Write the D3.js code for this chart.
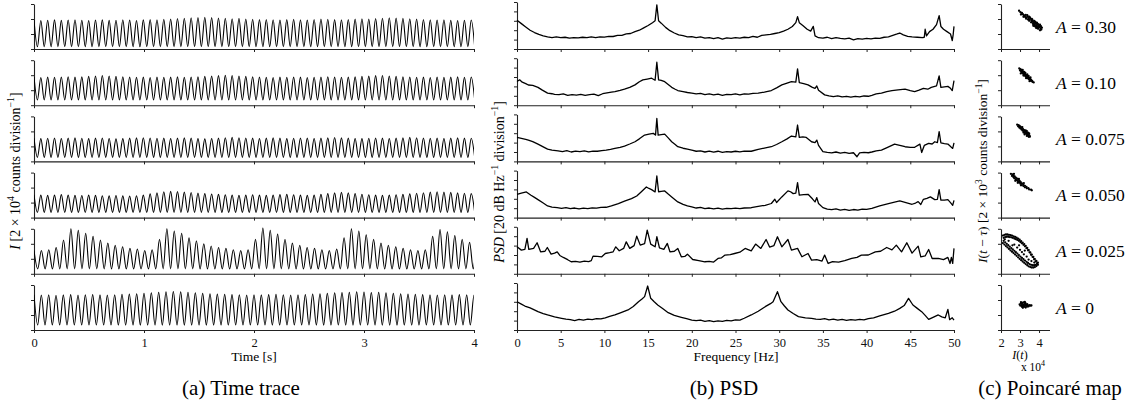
<!DOCTYPE html>
<html lang="en">
<head>
<meta charset="UTF-8">
<title>time trace / PSD / Poincare map</title>
<script src="https://cdn.jsdelivr.net/npm/d3@7"></script>
<style>
  body { margin: 0; background: #fff; }
  svg, svg text { font-family: "Liberation Serif", "Times New Roman", serif; }
  svg { display: block; }
</style>
</head>
<body>
<svg width="1135" height="408"></svg>
<script>
  // forcing amplitude of each row, top to bottom
  const amps = ['0.30', '0.10', '0.075', '0.050', '0.025', '0']

  // time trace: oscillation rate [cycles/s], trough level and the height of every peak
  const cycleRates = [16.1, 16.1, 16.1, 16.1, 14.9, 15.0]
  const troughLevels = [0.15, 0.35, 0.27, 0.35, 0.33, 0.33]

  const peaksA030 = [1.93,1.90,1.92,1.94,1.91,1.93,1.95,1.92,1.90,1.93, 1.94,1.91,1.92,1.95,1.93,1.90,1.94,1.96,1.95,1.98,
    2.00,2.03,2.05,2.08,2.10,2.12,2.10,2.07,2.05,2.02, 2.04,2.00,1.98,1.96,1.97,1.95,1.93,1.96,1.98,1.95,
    1.93,1.97,2.00,1.98,1.96,1.95,1.97,1.99,2.02,2.00, 2.03,2.05,2.08,2.06,2.04,2.02,2.00,1.97,1.95,1.93,
    1.95,1.92,1.90,1.92,1.93]
  const peaksA010 = [1.88,1.85,1.87,1.86,1.88,1.90,1.87,1.89,1.92,1.95, 1.98,1.95,1.92,1.90,1.88,1.86,1.87,1.85,1.88,1.86,
    1.87,1.89,1.86,1.88,1.90,1.92,1.95,1.97,2.00,1.98, 1.95,1.92,1.90,1.88,1.86,1.85,1.87,1.86,1.88,1.87,
    1.85,1.86,1.88,1.90,1.88,1.86,1.87,1.89,1.92,1.94, 1.97,1.98,1.95,1.92,1.90,1.88,1.86,1.87,1.85,1.88,
    1.86,1.87,1.89,1.86,1.88]
  const peaksA0075 = [1.55,1.52,1.54,1.56,1.53,1.55,1.57,1.54,1.52,1.55, 1.56,1.53,1.50,1.52,1.55,1.57,1.58,1.56,1.54,1.55,
    1.53,1.55,1.57,1.55,1.52,1.50,1.53,1.55,1.58,1.60, 1.58,1.56,1.55,1.53,1.55,1.57,1.55,1.52,1.54,1.56,
    1.55,1.53,1.55,1.57,1.59,1.57,1.55,1.53,1.52,1.54, 1.56,1.55,1.53,1.55,1.57,1.60,1.58,1.56,1.54,1.55,
    1.53,1.55,1.57,1.55,1.54]
  const peaksA0050 = [1.52,1.50,1.48,1.50,1.53,1.50,1.48,1.47,1.50,1.48, 1.46,1.45,1.47,1.45,1.44,1.46,1.50,1.58,1.65,1.72,
    1.75,1.73,1.70,1.67,1.63,1.60,1.57,1.55,1.52,1.50, 1.48,1.50,1.52,1.50,1.48,1.50,1.53,1.55,1.52,1.50,
    1.48,1.50,1.55,1.60,1.65,1.68,1.65,1.60,1.56,1.52, 1.50,1.48,1.50,1.52,1.55,1.58,1.62,1.66,1.70,1.72,
    1.70,1.68,1.65,1.62,1.60]
  const peaksA0025 = [1.55,1.55,1.60,1.75,2.25,3.00,2.90,2.70,2.50,2.25, 2.05,1.90,1.80,1.70,1.65,1.55,1.60,2.30,3.00,2.85,
    2.70,2.40,2.20,2.00,1.85,1.75,1.70,1.60,1.55,1.60, 2.30,3.05,2.90,2.65,2.30,2.05,1.90,1.75,1.70,1.60,
    1.55,1.65,2.40,3.00,2.85,2.60,2.30,2.05,1.90,1.80, 1.70,1.60,1.55,1.60,2.50,2.95,2.80,2.55,2.30,2.10,
    2.00]
  const peaksA0 = [2.35,2.33,2.35,2.32,2.34,2.36,2.33,2.35,2.37,2.34, 2.33,2.35,2.38,2.40,2.42,2.45,2.48,2.52,2.55,2.57,
    2.55,2.52,2.48,2.45,2.42,2.40,2.38,2.36,2.35,2.33, 2.35,2.34,2.36,2.38,2.35,2.33,2.35,2.37,2.40,2.42,
    2.45,2.48,2.50,2.52,2.55,2.53,2.50,2.52,2.48,2.45, 2.42,2.40,2.38,2.36,2.35,2.33,2.35,2.34,2.36,2.35,
    2.33]

  // PSD: [frequency Hz, level in divisions]
  const psdA030 = [[0,3.05],[0.5,2.7],[1,2.35],[1.5,2.0],[2,1.75],[2.5,1.55],[3,1.4],[3.5,1.3],[4,1.22],[4.5,1.28],[5,1.2],[5.5,1.25],
    [6,1.15],[6.5,1.22],[7,1.18],[7.5,1.25],[8,1.2],[8.5,1.28],[9,1.22],[9.5,1.3],[10,1.27],[10.5,1.35],[11,1.33],[11.5,1.45],
    [12,1.45],[12.5,1.6],[13,1.65],[13.5,1.85],[14,2.0],[14.5,2.25],[15,2.5],[15.5,2.8],[15.8,3.0],[16.0,4.7],[16.2,3.0],[16.5,2.75],
    [17,2.3],[17.5,1.95],[18,1.7],[18.5,1.5],[19,1.42],[19.5,1.3],[20,1.32],[20.5,1.22],[21,1.28],[21.5,1.15],[22,1.22],[22.5,1.1],
    [23,1.2],[23.5,1.05],[24,1.18],[24.5,1.12],[25,1.2],[25.5,1.15],[26,1.25],[26.5,1.2],[27,1.35],[27.5,1.25],[28,1.45],[28.5,1.5],
    [29,1.55],[29.5,1.65],[30,1.75],[30.5,1.9],[31,2.1],[31.5,2.4],[31.9,2.8],[32.1,3.45],[32.3,2.8],[32.7,2.5],[33.2,2.1],[33.6,1.9],
    [33.9,2.4],[34.1,1.4],[34.5,1.2],[35,1.15],[35.5,1.25],[36,1.1],[36.5,1.2],[37,1.12],[37.5,1.08],[38,1.15],[38.5,0.98],[39,1.1],
    [39.5,1.05],[40,1.12],[40.5,1.08],[41,1.15],[41.5,1.12],[42,1.25],[42.5,1.3],[43,1.45],[43.5,1.6],[43.8,1.7],[44.2,1.5],[44.7,1.35],
    [45.2,1.28],[45.8,1.25],[46.4,1.2],[46.6,1.25],[46.7,2.1],[46.85,1.4],[47.2,1.85],[47.6,2.1],[48.0,2.6],[48.3,3.55],[48.5,2.4],
    [48.8,2.1],[49.2,1.85],[49.6,1.6],[49.8,0.9],[49.9,1.5],[50,2.4]]
  const psdA010 = [[0,2.52],[0.3,2.7],[0.6,2.45],[1.0,2.3],[1.3,2.15],[1.8,2.1],[2.4,1.9],[2.9,1.6],[3.5,1.28],[4.0,1.22],[4.3,1.15],
    [4.8,1.12],[5.3,1.2],[5.8,1.05],[6.3,1.12],[6.8,1.08],[7.3,1.15],[7.8,1.05],[8.3,1.12],[8.8,1.18],[9.3,1.02],[9.8,1.22],[10.3,1.3],
    [10.8,1.38],[11.2,1.45],[11.8,1.58],[12.3,1.7],[12.9,1.9],[13.5,2.16],[14.0,2.5],[14.4,2.7],[14.9,2.78],[15.4,2.87],[15.8,2.65],
    [16.0,4.57],[16.2,2.7],[16.5,2.65],[16.9,2.5],[17.3,2.2],[17.7,1.9],[18.1,1.7],[18.4,1.56],[19.0,1.45],[19.5,1.35],[20,1.28],
    [20.5,1.2],[21,1.25],[21.5,1.12],[22,1.2],[22.5,1.1],[23,1.18],[23.5,1.05],[24,1.15],[24.5,1.12],[25,1.2],[25.5,1.1],[26,1.2],
    [26.5,1.18],[27,1.25],[27.6,1.28],[28.3,1.4],[29.1,1.56],[29.7,1.85],[30.3,2.16],[30.9,2.35],[31.4,2.5],[31.9,2.45],[32.1,3.87],
    [32.3,2.4],[32.8,2.3],[33.3,2.16],[33.8,1.9],[34.1,1.8],[34.3,2.05],[34.5,1.6],[35.2,1.1],[35.7,1.0],[36.2,0.92],[36.7,1.0],
    [37.2,0.88],[37.7,0.95],[38.2,0.85],[38.7,0.95],[39.2,0.88],[39.7,0.98],[40.2,0.95],[40.6,1.05],[41.1,1.2],[41.7,1.28],[42.3,1.45],
    [42.9,1.56],[43.6,1.62],[44.4,1.7],[45.0,1.55],[45.5,1.45],[46.0,1.6],[46.5,1.8],[47.0,1.7],[47.4,1.9],[48.0,2.05],[48.3,3.12],
    [48.5,1.9],[48.9,1.95],[49.3,2.0],[49.6,1.8],[49.8,1.56],[50,2.62]]
  const psdA0075 = [[0,2.55],[0.5,2.45],[1.0,2.35],[1.3,2.27],[1.8,2.1],[2.4,1.84],[3.0,1.55],[3.5,1.31],[4.0,1.2],[4.7,1.13],[5.2,1.05],
    [5.7,1.15],[6.2,1.0],[6.7,1.1],[7.2,1.05],[7.7,1.12],[8.2,1.02],[8.7,1.1],[9.2,1.08],[9.7,1.15],[10.2,1.2],[10.7,1.28],[11.2,1.38],
    [11.8,1.5],[12.3,1.63],[12.9,1.85],[13.5,2.09],[14.0,2.4],[14.6,2.8],[15.1,2.9],[15.6,2.98],[15.85,2.8],[16.0,4.57],[16.15,2.8],
    [16.5,2.85],[16.9,2.9],[17.3,2.5],[17.7,2.09],[18.1,1.8],[18.4,1.56],[19.0,1.4],[19.5,1.3],[20,1.2],[20.5,1.08],[21,1.12],[21.5,1.0],
    [22,1.1],[22.5,0.98],[23,1.08],[23.5,0.95],[24,1.05],[24.5,1.0],[25,1.08],[25.5,1.02],[26,1.1],[26.8,1.08],[27.6,1.28],[28.3,1.42],
    [29.1,1.56],[29.7,1.8],[30.3,2.09],[30.9,2.4],[31.4,2.7],[31.9,2.6],[32.1,3.87],[32.3,2.55],[32.7,2.6],[33.1,2.55],[33.7,2.09],
    [34.1,2.0],[34.3,2.27],[34.5,1.7],[35.0,1.03],[35.5,0.95],[36.0,0.9],[36.5,1.0],[37.0,0.88],[37.5,0.95],[38.0,0.85],[38.5,0.92],
    [38.9,0.5],[39.2,0.9],[39.7,0.95],[40.2,0.92],[40.6,1.0],[41.1,1.12],[41.7,1.2],[42.4,1.5],[43.2,1.84],[43.8,1.7],[44.4,1.56],
    [45.0,1.5],[45.5,1.5],[46.1,1.84],[46.3,0.95],[46.6,1.7],[47.1,1.91],[47.5,1.85],[47.8,2.09],[48.1,2.0],[48.3,3.16],[48.5,1.98],
    [48.9,1.9],[49.3,1.84],[49.7,1.5],[49.85,1.38],[50,1.98]]
  const psdA0050 = [[0,2.48],[0.5,2.6],[1.07,2.73],[1.6,2.38],[2.0,2.15],[2.4,1.91],[3.0,1.55],[3.5,1.24],[4.0,1.12],[4.6,1.06],[5.1,0.98],
    [5.6,1.05],[6.1,0.95],[6.6,1.02],[7.1,0.92],[7.6,1.0],[8.1,0.95],[8.6,1.03],[9.1,1.0],[9.6,1.08],[10.2,1.1],[10.8,1.25],[11.6,1.49],
    [12.3,1.75],[13.1,2.02],[13.7,2.3],[14.2,2.73],[14.8,3.26],[15.1,3.1],[15.4,2.98],[15.8,2.73],[16.0,4.43],[16.2,2.75],[16.5,2.8],
    [16.9,2.84],[17.3,2.5],[17.7,2.2],[18.4,1.67],[19.0,1.4],[19.5,1.25],[20,1.13],[20.5,1.02],[21,1.08],[21.5,0.95],[22,1.02],[22.5,0.92],
    [23,1.0],[23.5,0.9],[24,0.98],[24.5,0.95],[25,1.0],[25.5,0.95],[26,1.02],[26.8,1.05],[27.6,1.2],[28.4,1.31],[29.1,1.5],[29.5,1.95],
    [29.7,1.6],[30.3,2.2],[31.0,2.84],[31.3,2.75],[31.6,2.55],[31.9,2.6],[32.1,3.72],[32.3,2.4],[32.8,2.45],[33.3,2.48],[33.8,2.0],
    [34.1,1.67],[34.3,2.13],[34.5,1.5],[35.0,1.06],[35.5,0.9],[36.0,0.85],[36.5,0.92],[37.0,0.8],[37.5,0.88],[38.0,0.78],[38.5,0.86],
    [39.0,0.8],[39.5,0.9],[40.0,0.88],[40.6,0.98],[41.5,1.25],[42.5,1.49],[43.2,1.65],[43.8,1.77],[44.5,1.6],[45.2,1.42],[45.6,1.55],
    [45.9,1.7],[46.2,1.4],[46.5,1.95],[46.9,2.05],[47.3,2.2],[47.8,1.91],[48.1,1.95],[48.3,2.98],[48.5,1.85],[48.9,1.85],[49.3,1.91],
    [49.6,1.6],[49.85,1.31],[50,1.84]]
  const psdA0025 = [[0,2.87],[0.5,2.52],[0.9,2.6],[1.15,3.76],[1.35,2.59],[1.9,2.7],[2.3,3.3],[2.7,2.34],[3.2,2.4],[3.47,2.8],[3.9,2.09],
    [4.3,2.2],[4.6,2.34],[4.9,1.95],[5.3,1.74],[5.8,1.5],[6.2,1.28],[6.7,1.32],[7.2,1.25],[7.7,1.35],[8.2,1.3],[8.5,1.4],[8.7,1.88],
    [9.2,1.85],[9.7,1.81],[10.1,2.16],[10.6,2.25],[11.0,2.34],[11.3,2.87],[11.7,2.45],[12.2,2.7],[12.5,3.4],[12.9,2.7],[13.4,3.0],
    [13.7,4.0],[14.1,3.05],[14.6,3.2],[14.9,4.65],[15.3,3.16],[15.8,2.87],[16.0,3.94],[16.3,2.75],[16.8,2.6],[17.2,3.23],[17.5,2.34],
    [18.0,2.4],[18.4,2.7],[18.8,1.81],[19.2,1.85],[19.5,2.09],[20.1,1.52],[20.8,1.4],[21.5,1.28],[22.0,1.32],[22.5,1.25],[23.0,1.63],
    [23.4,1.7],[23.8,1.99],[24.4,2.05],[24.9,2.16],[25.5,2.3],[26.1,2.7],[26.8,2.45],[27.3,3.16],[27.9,2.7],[28.5,3.65],[28.9,2.85],
    [29.4,3.0],[29.8,3.94],[30.3,2.87],[31.0,3.65],[31.4,2.52],[32.1,2.7],[32.6,1.81],[33.3,2.16],[33.7,1.45],[34.3,1.5],[34.9,1.35],
    [35.2,1.99],[35.6,1.1],[36.1,1.3],[36.8,1.25],[37.5,1.4],[38.3,1.63],[38.9,1.75],[39.4,1.99],[40.2,2.0],[41.0,2.34],[41.6,2.4],
    [42.3,2.8],[42.9,2.55],[43.4,3.05],[44.0,2.34],[44.6,3.3],[45.2,2.2],[45.9,2.94],[46.2,1.81],[46.7,1.9],[47.1,2.59],[47.5,1.63],
    [48.2,1.63],[48.8,1.5],[49.3,1.74],[49.55,1.1],[49.7,1.74],[49.85,1.1],[50,2.7]]
  const psdA0 = [[0,3.01],[0.5,2.75],[0.9,2.55],[1.5,2.35],[2.4,1.95],[3.0,1.75],[3.5,1.6],[4.3,1.4],[5.1,1.24],[5.6,1.15],[6.1,1.1],
    [6.6,1.0],[7.1,1.12],[7.6,1.05],[8.1,1.15],[8.6,1.1],[9.1,1.2],[9.6,1.18],[10.1,1.3],[10.6,1.45],[11.2,1.6],[11.9,1.85],[12.7,2.13],
    [13.3,2.5],[13.9,3.01],[14.3,3.3],[14.6,3.55],[14.95,4.68],[15.3,3.37],[15.7,3.0],[16.1,2.66],[16.7,2.25],[17.3,1.84],[18.0,1.55],
    [18.8,1.35],[19.4,1.2],[20,1.06],[20.5,1.0],[21,1.05],[21.5,0.92],[22,1.0],[22.5,0.9],[23,0.98],[23.5,0.92],[24,1.02],[24.5,0.98],
    [25,1.08],[25.5,1.05],[26.0,1.25],[26.8,1.6],[27.6,2.0],[28.4,2.48],[29.0,2.8],[29.3,3.01],[29.8,4.08],[30.2,3.01],[30.6,2.55],
    [31.0,2.13],[31.6,1.75],[32.2,1.42],[33.0,1.3],[33.7,1.24],[34.2,1.15],[34.7,1.12],[35.2,1.2],[35.7,1.08],[36.2,1.15],[36.7,1.05],
    [37.2,1.12],[37.7,1.02],[38.2,1.1],[38.7,1.05],[39.2,1.12],[39.7,1.08],[40.2,1.2],[40.8,1.3],[41.5,1.5],[42.5,1.77],[43.2,2.0],
    [43.8,2.3],[44.3,2.6],[44.8,3.37],[45.3,2.66],[45.8,2.3],[46.3,1.95],[46.7,1.55],[47.1,1.13],[47.6,1.35],[48.2,1.6],[48.6,1.4],
    [49.0,1.3],[49.3,2.2],[49.5,1.1],[49.8,1.3],[50,1.06]]

  // Poincare map: [I(t) x1e4, I(t - tau) in divisions]
  const mapA030 = [[2.95,2.55],[3.02,2.45],[3.10,2.40],[3.05,2.30],[3.15,2.32],[3.20,2.25],[3.25,2.20],[3.18,2.15],[3.30,2.28],
    [3.35,2.10],[3.40,2.18],[3.32,2.02],[3.45,2.05],[3.50,1.95],[3.55,2.02],[3.48,1.88],[3.60,1.90],[3.62,1.80],[3.68,1.85],
    [3.70,1.72],[3.75,1.78],[3.78,1.65],[3.82,1.72],[3.85,1.58],[3.90,1.62],[3.92,1.50],[3.98,1.55],[4.00,1.45],[4.05,1.48],
    [4.08,1.38],[4.12,1.30],[3.58,1.78],[3.72,1.62],[3.88,1.48],[3.42,1.96],[3.28,2.12],[3.65,1.95],[3.80,1.80],[3.95,1.66],
    [4.02,1.58],[3.52,2.10],[3.38,2.25],[4.15,1.42],[3.62,2.00],[3.75,1.88],[3.88,1.75],[4.05,1.62],[3.48,2.15],[3.95,1.42],
    [3.70,1.55],[3.75,1.55],[3.85,1.40],[3.95,1.35],[4.05,1.25],[3.80,1.50],[3.68,1.68],[3.90,1.72],[4.10,1.52]]
  const mapA010 = [[2.96,2.45],[3.02,2.40],[3.00,2.32],[3.08,2.35],[3.06,2.25],[3.12,2.28],[3.10,2.18],[3.16,2.22],[3.15,2.12],
    [3.20,2.16],[3.20,2.05],[3.25,2.10],[3.25,1.98],[3.30,2.03],[3.30,1.92],[3.36,1.97],[3.35,1.85],[3.42,1.90],[3.40,1.80],
    [3.47,1.84],[3.46,1.74],[3.52,1.78],[3.52,1.68],[3.58,1.70],[3.58,1.62],[3.64,1.62],[3.66,1.55],[3.72,1.52],[3.14,2.35],
    [3.22,2.22],[3.28,2.15],[3.38,2.05],[3.45,1.95],[3.55,1.85],[3.04,2.12],[3.18,1.98],[3.32,1.80],[3.50,1.60]]
  const mapA0075 = [[2.85,2.45],[2.92,2.42],[2.90,2.34],[2.98,2.36],[2.96,2.26],[3.04,2.30],[3.02,2.20],[3.10,2.22],[3.08,2.12],
    [3.16,2.15],[3.14,2.05],[3.22,2.08],[3.20,1.98],[3.28,2.00],[3.26,1.90],[3.34,1.94],[3.32,1.84],[3.40,1.86],[3.38,1.76],
    [3.46,1.80],[3.44,1.70],[3.50,1.72],[3.52,1.65],[3.42,1.92],[3.30,2.06],[3.18,1.92],[3.24,1.80],[3.12,2.28],[3.36,2.02],
    [3.48,1.86],[3.36,1.70],[3.46,1.64]]
  const mapA0050 = [[2.52,2.92],[2.60,2.88],[2.58,2.78],[2.66,2.82],[2.65,2.70],[2.72,2.74],[2.70,2.62],[2.78,2.66],[2.78,2.55],
    [2.85,2.60],[2.84,2.48],[2.92,2.52],[2.90,2.40],[2.98,2.44],[2.96,2.33],[3.04,2.36],[3.02,2.25],[3.10,2.28],[3.10,2.17],
    [3.18,2.20],[3.18,2.10],[3.26,2.12],[3.26,2.02],[3.34,2.04],[3.36,1.95],[3.44,1.96],[3.48,1.88],[3.58,1.86],[3.62,1.82],
    [2.75,2.45],[2.88,2.32],[3.05,2.15],[2.68,2.92],[3.20,2.30],[2.94,2.58]]
  const mapA0025 = [[2.10,2.55],[2.14,2.40],[2.18,2.60],[2.22,2.45],[2.26,2.62],[2.30,2.47],[2.34,2.62],[2.38,2.47],[2.42,2.60],
    [2.46,2.45],[2.50,2.58],[2.54,2.43],[2.58,2.55],[2.62,2.40],[2.66,2.50],[2.70,2.35],[2.74,2.46],[2.78,2.31],[2.82,2.41],
    [2.86,2.26],[2.90,2.35],[2.94,2.20],[2.98,2.27],[3.02,2.12],[3.06,2.18],[3.10,2.03],[3.14,2.08],[3.18,1.93],[3.22,1.98],
    [3.26,1.83],[3.30,1.86],[3.34,1.71],[3.38,1.72],[3.42,1.57],[3.46,1.58],[3.50,1.43],[3.54,1.42],[3.58,1.27],[3.62,1.28],
    [3.66,1.13],[3.70,1.12],[3.74,0.97],[3.78,0.98],[3.82,0.83],[3.86,0.86],[3.90,0.71],[3.94,0.74],
    [2.10,2.05],[2.14,2.20],[2.18,1.95],[2.22,2.10],[2.26,1.85],[2.30,2.00],[2.34,1.76],[2.38,1.91],[2.42,1.66],[2.46,1.81],
    [2.50,1.56],[2.54,1.71],[2.58,1.47],[2.62,1.62],[2.66,1.38],[2.70,1.53],[2.74,1.29],[2.78,1.44],[2.82,1.20],[2.86,1.35],
    [2.90,1.10],[2.94,1.25],[2.98,1.00],[3.02,1.15],[3.06,0.91],[3.10,1.06],[3.14,0.82],[3.18,0.97],[3.22,0.73],[3.26,0.88],
    [3.30,0.65],[3.34,0.80],[3.38,0.57],[3.42,0.72],[3.46,0.50],[3.50,0.65],[3.54,0.45],[3.58,0.60],[3.62,0.42],[3.66,0.57],
    [3.70,0.42],[3.74,0.57],[3.78,0.45],[3.82,0.60],[3.86,0.52],[3.90,0.66],[3.94,0.60],
    [2.60,1.90],[2.85,1.75],[3.10,1.45],[3.35,1.15],[3.60,0.85],[2.40,2.20],[3.00,1.60],[2.20,2.30],[2.70,1.95],[3.20,1.30],
    [3.45,0.95],[3.75,0.75],[2.95,1.90],[3.25,1.55]]
  const mapA0 = [[2.98,1.70],[3.02,1.62],[3.05,1.78],[3.08,1.66],[3.10,1.55],[3.12,1.74],[3.15,1.62],[3.18,1.84],[3.20,1.68],
    [3.22,1.55],[3.25,1.75],[3.28,1.62],[3.30,1.50],[3.32,1.70],[3.35,1.60],[3.38,1.72],[3.42,1.64],[3.46,1.58],[3.50,1.66],
    [3.56,1.62],[3.60,1.64],[3.15,1.48],[3.05,1.85],[3.25,1.88],[3.12,1.80],[3.20,1.60],[3.28,1.80],[3.40,1.56]]

  const peakSets = [peaksA030, peaksA010, peaksA0075, peaksA0050, peaksA0025, peaksA0]
  const psdSets = [psdA030, psdA010, psdA0075, psdA0050, psdA0025, psdA0]
  const mapSets = [mapA030, mapA010, mapA0075, mapA0050, mapA0025, mapA0]

  const serif = '"Liberation Serif", "Times New Roman", serif'
  const svg = d3.select('svg')
  const rowBottom = k => 49 + k * 56.2

  const xTime = d3.scaleLinear().domain([0, 4]).range([34, 474])
  const xFreq = d3.scaleLinear().domain([0, 50]).range([517, 954])
  const xMap = d3.scaleLinear().domain([2, 4.55]).range([1001, 1049.5])

  svg.append('clipPath').attr('id', 'clipTime')
    .append('rect').attr('x', 34).attr('y', 0).attr('width', 440).attr('height', 408)

  // text with italic / superscript pieces
  function rich(text, parts, size) {
    text.attr('font-family', serif).attr('font-size', size)
    let shifted = 0
    parts.forEach(p => {
      const ts = text.append('tspan').text(p.t)
      if (p.it) ts.attr('font-style', 'italic')
      if (p.sup) {
        ts.attr('font-size', size * 0.7).attr('dy', -size * 0.4 - shifted)
        shifted = -size * 0.4
      } else if (shifted) {
        ts.attr('dy', -shifted)
        shifted = 0
      }
    })
    return text
  }

  function axes(g, x, y, xTicks, yTicks, labels) {
    const ax = g.append('g')
        .attr('transform', `translate(0,${y.range()[0]})`)
        .call(d3.axisBottom(x).tickValues(xTicks).tickSize(3).tickSizeOuter(0).tickPadding(5)
            .tickFormat(labels ? d3.format('d') : ''))
    const ay = g.append('g')
        .attr('transform', `translate(${x.range()[0]},0)`)
        .call(d3.axisLeft(y).tickValues(yTicks).tickSize(3).tickSizeOuter(0).tickFormat(''))
    ;[ax, ay].forEach(a => {
      a.attr('color', '#222').attr('font-family', serif).attr('font-size', 12.5)
      a.select('.domain').attr('stroke-width', 1.1)
      a.selectAll('text').attr('fill', '#111')
    })
  }

  peakSets.forEach((peaks, k) => {
    const bottom = rowBottom(k)
    const last = k === 5

    // time trace
    const yT = d3.scaleLinear().domain([0, 3]).range([bottom, bottom - 45])
    const gT = svg.append('g')
    axes(gT, xTime, yT, [0, 1, 2, 3, 4], [0, 1, 2, 3], last)
    const rate = cycleRates[k], low = troughLevels[k]
    const pts = []
    peaks.forEach((p, i) => {
      pts.push([i / rate, p])
      pts.push([(i + 0.5) / rate, low])
    })
    gT.append('path')
        .datum(pts)
        .attr('clip-path', 'url(#clipTime)')
        .attr('fill', 'none')
        .attr('stroke', '#000')
        .attr('stroke-width', 1.1)
        .attr('d', d3.line().x(d => xTime(d[0])).y(d => yT(d[1])).curve(d3.curveMonotoneX))

    // PSD
    const yP = d3.scaleLinear().domain([0, 5]).range([bottom, bottom - 47])
    const gP = svg.append('g')
    axes(gP, xFreq, yP, d3.range(0, 51, 5), [0, 1, 2, 3, 4, 5], last)
    gP.append('path')
        .datum(psdSets[k])
        .attr('fill', 'none')
        .attr('stroke', '#000')
        .attr('stroke-width', 1.3)
        .attr('stroke-linejoin', 'round')
        .attr('d', d3.line().x(d => xFreq(d[0])).y(d => yP(d[1])))

    // Poincare map
    const yM = d3.scaleLinear().domain([0, 3]).range([bottom, bottom - 45])
    const gM = svg.append('g')
    axes(gM, xMap, yM, [2, 3, 4], [0, 1, 2, 3], last)
    gM.append('g')
        .selectAll('circle')
        .data(mapSets[k])
        .join('circle')
        .attr('cx', d => xMap(d[0]))
        .attr('cy', d => yM(d[1]))
        .attr('r', 1.15)
        .attr('fill', '#000')

    rich(svg.append('text')
        .attr('x', 1056).attr('y', (yM(0) + yM(3)) / 2 + 6),
        [{t: 'A', it: true}, {t: ' = ' + amps[k]}], 17.5)
  })

  // axis titles
  rich(svg.append('text').attr('x', 254).attr('y', 361).attr('text-anchor', 'middle'), [{t: 'Time [s]'}], 13.5)
  rich(svg.append('text').attr('x', 736).attr('y', 361).attr('text-anchor', 'middle'), [{t: 'Frequency [Hz]'}], 13.5)

  rich(svg.append('text').attr('transform', 'translate(20,171) rotate(-90)').attr('text-anchor', 'middle'),
      [{t: 'I', it: true}, {t: ' [2 × 10'}, {t: '4', sup: true}, {t: ' counts division'}, {t: '−1', sup: true}, {t: ']'}], 14)
  rich(svg.append('text').attr('transform', 'translate(504,182) rotate(-90)').attr('text-anchor', 'middle'),
      [{t: 'PSD', it: true}, {t: ' [20 dB Hz'}, {t: '−1', sup: true}, {t: ' division'}, {t: '−1', sup: true}, {t: ']'}], 14)
  rich(svg.append('text').attr('transform', 'translate(987,171) rotate(-90)').attr('text-anchor', 'middle'),
      [{t: 'I', it: true}, {t: '('}, {t: 't', it: true}, {t: ' − '}, {t: 'τ', it: true}, {t: ') [2 × 10'}, {t: '3', sup: true},
       {t: ' counts division'}, {t: '−1', sup: true}, {t: ']'}], 13.5)

  rich(svg.append('text').attr('x', 1020).attr('y', 359).attr('text-anchor', 'middle'),
      [{t: 'I', it: true}, {t: '('}, {t: 't', it: true}, {t: ')'}], 12)
  rich(svg.append('text').attr('x', 1033).attr('y', 371).attr('text-anchor', 'middle'),
      [{t: 'x 10'}, {t: '4', sup: true}], 11.5)

  // sub-figure captions
  const captions = [['(a) Time trace', 241], ['(b) PSD', 724], ['(c) Poincaré map', 1050]]
  svg.selectAll('.caption')
      .data(captions)
      .join('text')
      .attr('class', 'caption')
      .attr('x', d => d[1]).attr('y', 395)
      .attr('text-anchor', 'middle')
      .attr('font-family', serif)
      .attr('font-size', 21)
      .text(d => d[0])
</script>
</body>
</html>
